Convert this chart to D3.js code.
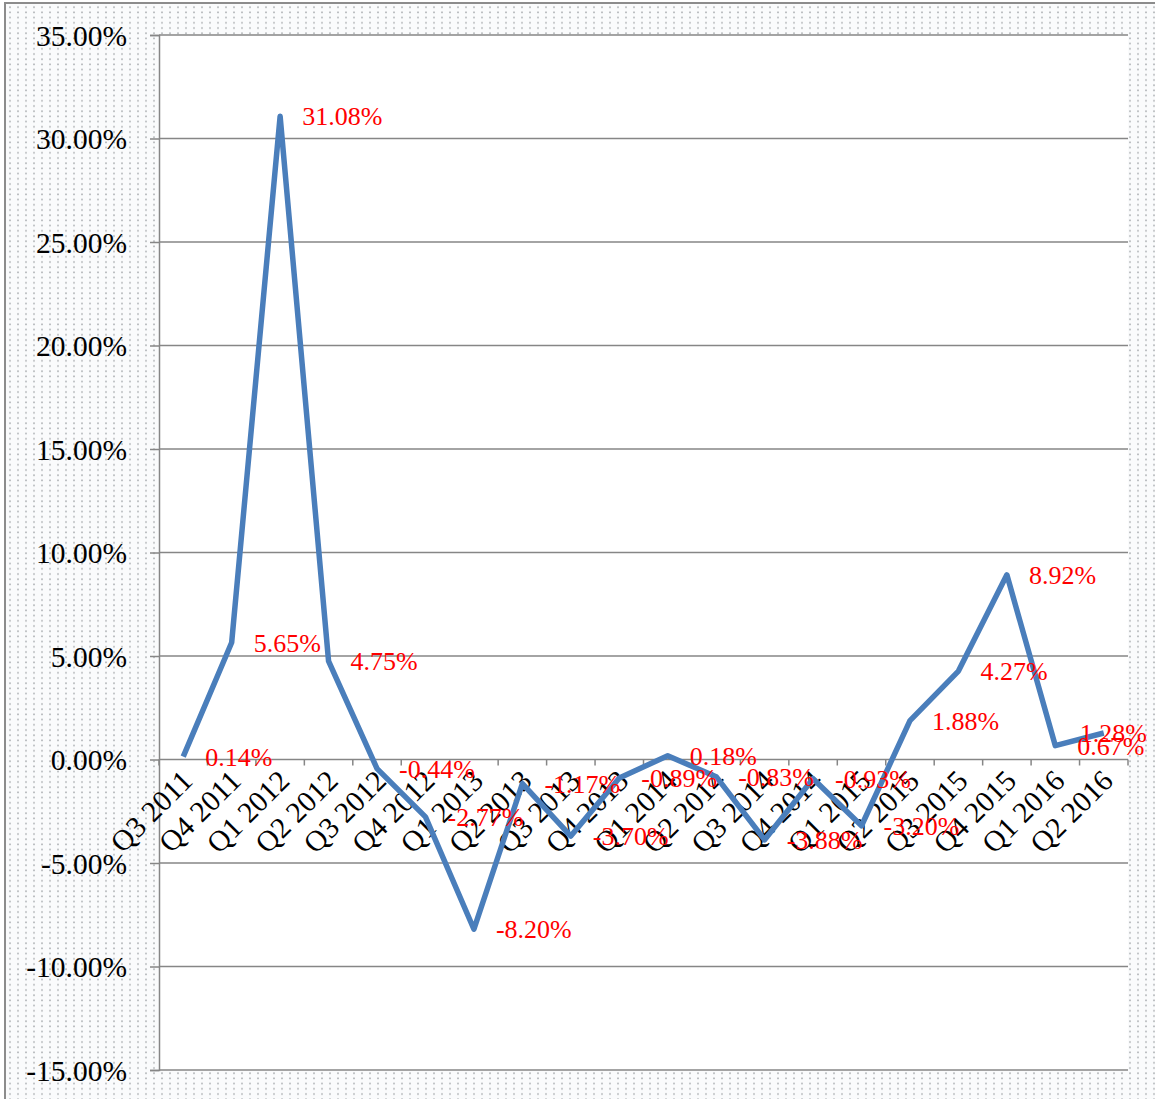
<!DOCTYPE html>
<html>
<head>
<meta charset="utf-8">
<script src="https://cdn.jsdelivr.net/npm/d3@7"></script>
<style>
  html, body { margin: 0; padding: 0; background: #fff; }
  svg { display: block; font-family: "Liberation Serif", "Times New Roman", serif; }
</style>
</head>
<body>
<svg id="chart" width="1155" height="1099"></svg>
<script>
// quarters on the x axis
const quarters = ["Q3 2011", "Q4 2011", "Q1 2012", "Q2 2012", "Q3 2012", "Q4 2012",
  "Q1 2013", "Q2 2013", "Q3 2013", "Q4 2013", "Q1 2014", "Q2 2014", "Q3 2014",
  "Q4 2014", "Q1 2015", "Q2 2015", "Q3 2015", "Q4 2015", "Q1 2016", "Q2 2016"];

// quarter-on-quarter change, percent
const changes = [0.14, 5.65, 31.08, 4.75, -0.44, -2.77, -8.20, -1.17, -3.70, -0.89,
  0.18, -0.83, -3.88, -0.93, -3.20, 1.88, 4.27, 8.92, 0.67, 1.28];

const yTicks = [35, 30, 25, 20, 15, 10, 5, 0, -5, -10, -15];

const svg = d3.select("#chart");
const width = +svg.attr("width");
const height = +svg.attr("height");
const margin = {top: 35, right: 27, bottom: 29, left: 159};
const innerWidth = width - margin.left - margin.right;
const innerHeight = height - margin.top - margin.bottom;

// dotted chart background
const defs = svg.append("defs");
const pat = defs.append("pattern")
    .attr("id", "dots")
    .attr("width", 8)
    .attr("height", 5.2)
    .attr("patternUnits", "userSpaceOnUse");
pat.append("rect").attr("width", 8).attr("height", 5.2).attr("fill", "#fafbfc");
pat.append("circle").attr("cx", 2).attr("cy", 2).attr("r", 1).attr("fill", "#b3b6ba");

svg.append("rect")
    .attr("x", 5).attr("y", 3)
    .attr("width", width).attr("height", height)
    .attr("fill", "url(#dots)")
    .attr("stroke", "#8c8c8c")
    .attr("stroke-width", 2);

const g = svg.append("g")
    .attr("transform", `translate(${margin.left}, ${margin.top})`);

// plot area
g.append("rect")
    .attr("width", innerWidth)
    .attr("height", innerHeight)
    .attr("fill", "#fff");

const xScale = d3.scaleBand()
    .domain(quarters)
    .range([0, innerWidth]);

const yScale = d3.scaleLinear()
    .domain([-15, 35])
    .range([innerHeight, 0]);

// gridlines + y axis
const yAxis = g.append("g")
    .call(d3.axisLeft(yScale)
        .tickValues(yTicks)
        .tickSize(9)
        .tickPadding(23)
        .tickFormat(d => d.toFixed(2) + "%"))
    .attr("font-family", "'Liberation Serif', 'Times New Roman', serif");
yAxis.select(".domain").attr("stroke", "#868686").attr("stroke-width", 1.5);
yAxis.selectAll(".tick line").attr("stroke", "#868686").attr("stroke-width", 1.5);
yAxis.selectAll(".tick text")
    .attr("font-size", 29.5)
    .attr("fill", "#000")
    .attr("dy", "0.34em");

g.append("g")
    .selectAll("line")
    .data(yTicks)
    .join("line")
    .attr("x1", 0)
    .attr("x2", innerWidth)
    .attr("y1", d => yScale(d))
    .attr("y2", d => yScale(d))
    .attr("stroke", "#868686")
    .attr("stroke-width", 1.5);

// category axis at zero
const zeroY = yScale(0);
const xAxis = g.append("g")
    .attr("transform", `translate(0, ${zeroY})`);
xAxis.selectAll(".cat-tick")
    .data(quarters.map(q => xScale(q)).concat([innerWidth]))
    .join("line")
    .attr("class", "cat-tick")
    .attr("x1", d => d).attr("x2", d => d)
    .attr("y1", 0).attr("y2", 6)
    .attr("stroke", "#868686")
    .attr("stroke-width", 1.5);

xAxis.selectAll(".cat-label")
    .data(quarters)
    .join("text")
    .attr("class", "cat-label")
    .attr("text-anchor", "end")
    .attr("font-size", 29.5)
    .attr("fill", "#000")
    .attr("transform", d => {
        const cx = xScale(d) + xScale.bandwidth() / 2 + 11;
        return `translate(${cx}, 23) rotate(-45)`;
    })
    .text(d => d);

// the series line
const line = d3.line()
    .x((d, i) => xScale(quarters[i]) + xScale.bandwidth() / 2)
    .y(d => yScale(d));

g.append("path")
    .datum(changes)
    .attr("d", line)
    .attr("fill", "none")
    .attr("stroke", "#4a7ebb")
    .attr("stroke-width", 5.5)
    .attr("stroke-linejoin", "round");

// data labels, right of each point
const rightLimit = width - 8 - margin.left;
g.append("g")
    .selectAll("text")
    .data(changes)
    .join("text")
    .attr("font-size", 26)
    .attr("fill", "#ff0000")
    .attr("y", d => yScale(d))
    .attr("dy", "0.35em")
    .text(d => d.toFixed(2) + "%")
    .attr("x", function(d, i) {
        const px = xScale(quarters[i]) + xScale.bandwidth() / 2 + 22;
        const w = this.getComputedTextLength();
        return Math.min(px, rightLimit - w);
    });
</script>
</body>
</html>
